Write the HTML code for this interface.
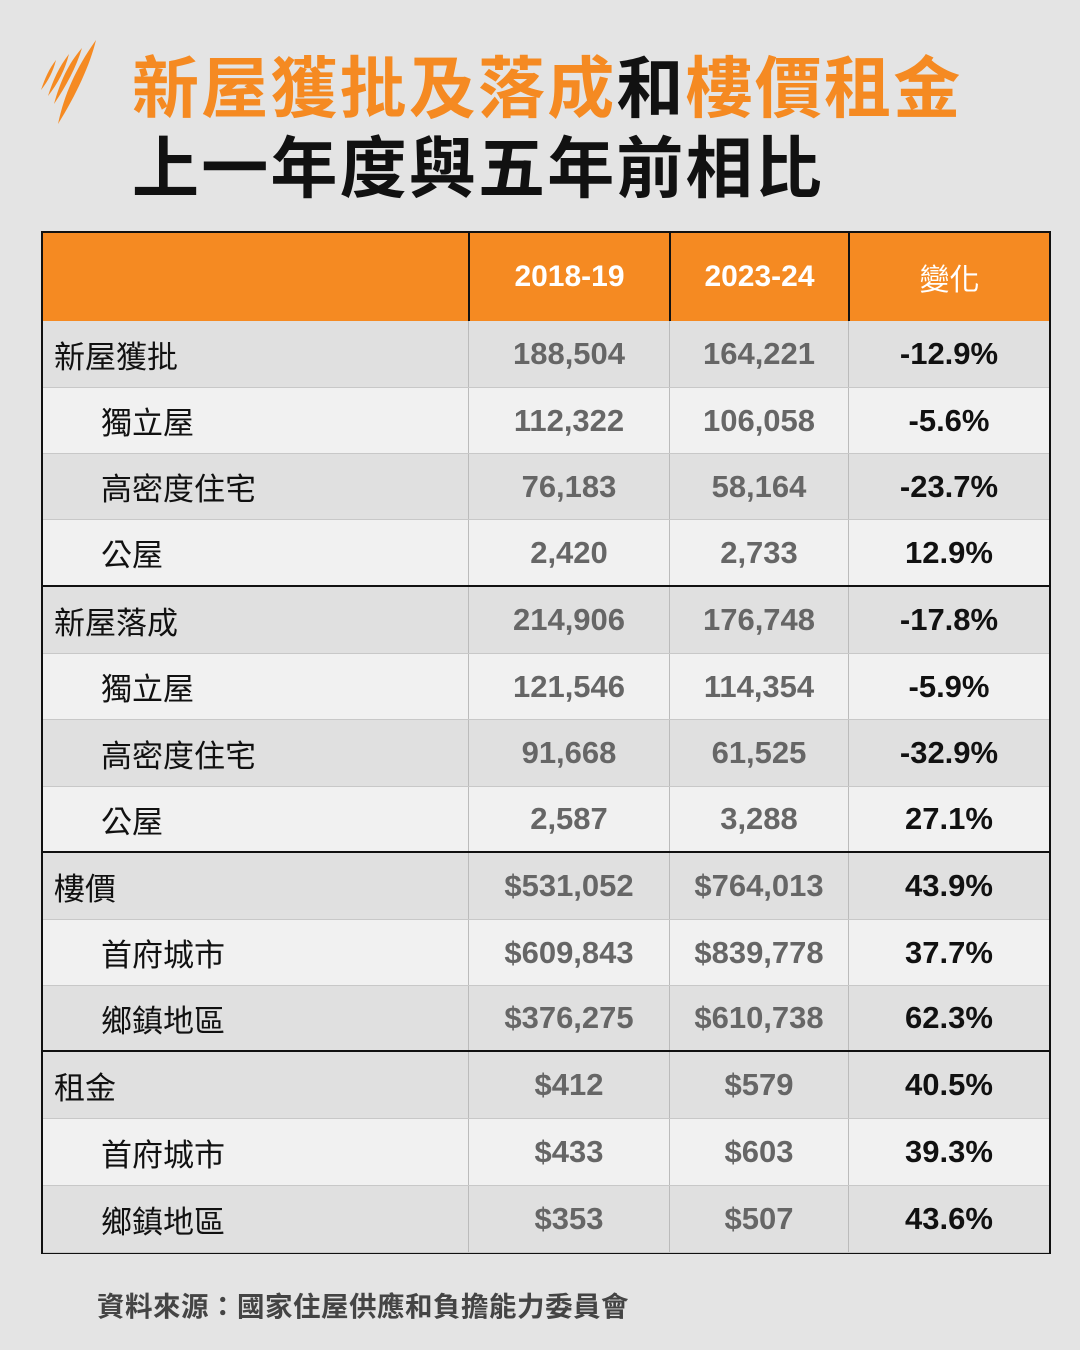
<!DOCTYPE html><html><head><meta charset="utf-8"><style>
body{margin:0;width:1080px;height:1350px;background:#e4e4e4;position:relative;overflow:hidden;font-family:"Liberation Sans","Noto Sans CJK TC",sans-serif}
.t{position:absolute;font-weight:bold;font-size:67px;line-height:1;white-space:nowrap;letter-spacing:2.2px}
.tb{position:absolute;left:41px;top:231px;width:1006px;height:1019px;border:2.5px solid #111;background:#f1f1f1}
.r{position:absolute;left:0;width:1006px;display:flex;align-items:center}
.r div{height:100%;display:flex;align-items:center;justify-content:center;box-sizing:border-box}
.c0{width:425px;justify-content:flex-start!important;font-size:31px;color:#111}
.c1{width:201px;border-left:1.5px solid #bbb}.c2{width:179px;border-left:1.5px solid #bbb}.c3{width:201px;border-left:1.5px solid #bbb}
.n{font-size:31px;font-weight:bold;color:#666}.p{font-size:31px;font-weight:bold;color:#111}
.h div{color:#fff;font-size:30px;font-weight:bold;border-color:#111!important;border-left-width:2.5px!important}
</style></head><body>
<svg style="position:absolute;left:38px;top:40px" width="60" height="85" viewBox="0 0 60 85">
<path d="M58 0 C52 25 38 55 20 84 C26 55 38 28 58 0Z" fill="#f58a22"/>
<path d="M44 8 C38 28 28 46 16 64 C22 42 30 24 44 8Z" fill="#f58a22"/>
<path d="M31 14 C27 30 20 43 10 56 C15 40 21 27 31 14Z" fill="#f58a22"/>
<path d="M18 20 C15 32 10 41 3 50 C7 38 11 29 18 20Z" fill="#f58a22"/>
</svg>
<div class="t" style="left:132px;top:56px;color:#f58a22">新屋獲批及落成<span style="color:#111">和</span>樓價租金</div>
<div class="t" style="left:132px;top:136px;color:#111">上一年度與五年前相比</div>
<div class="tb">
<div class="r h" style="top:0;height:88px;background:#f58a22;border-bottom:2.5px solid #111"><div class="c0"></div><div class="c1">2018-19</div><div class="c2">2023-24</div><div class="c3" style="font-weight:normal">變化</div></div>
<div id="rows"></div>
</div>
<div style="position:absolute;left:97px;top:1284px;font-size:27.5px;font-weight:bold;color:#444;letter-spacing:0.5px">資料來源：國家住屋供應和負擔能力委員會</div>
<script>
const d=[["新屋獲批","188,504","164,221","-12.9%",0],["獨立屋","112,322","106,058","-5.6%",1],["高密度住宅","76,183","58,164","-23.7%",1],["公屋","2,420","2,733","12.9%",1],
["新屋落成","214,906","176,748","-17.8%",0],["獨立屋","121,546","114,354","-5.9%",1],["高密度住宅","91,668","61,525","-32.9%",1],["公屋","2,587","3,288","27.1%",1],
["樓價","$531,052","$764,013","43.9%",0],["首府城市","$609,843","$839,778","37.7%",1],["鄉鎮地區","$376,275","$610,738","62.3%",1],
["租金","$412","$579","40.5%",0],["首府城市","$433","$603","39.3%",1],["鄉鎮地區","$353","$507","43.6%",1]];
const ys=[321,388,454,520,587,654,720,787,853,920,986,1052,1119,1186,1253];
let h="",k=0;
d.forEach((r,i)=>{if(r[4]==0)k=0;const top=ys[i]-233,ht=ys[i+1]-ys[i];const bg=k%2==0?"#e0e0e0":"#f1f1f1";k++;
const thick=(i==3||i==7||i==10);
h+=`<div class="r" style="top:${top}px;height:${ht}px;background:${bg};border-bottom:${thick?'2.5px solid #111':'1px solid #c8c8c8'};box-sizing:border-box"><div class="c0" style="padding-left:${r[4]?58:11}px">${r[0]}</div><div class="c1 n">${r[1]}</div><div class="c2 n">${r[2]}</div><div class="c3 p">${r[3]}</div></div>`;});
document.getElementById("rows").outerHTML=h;
</script>
</body></html>
